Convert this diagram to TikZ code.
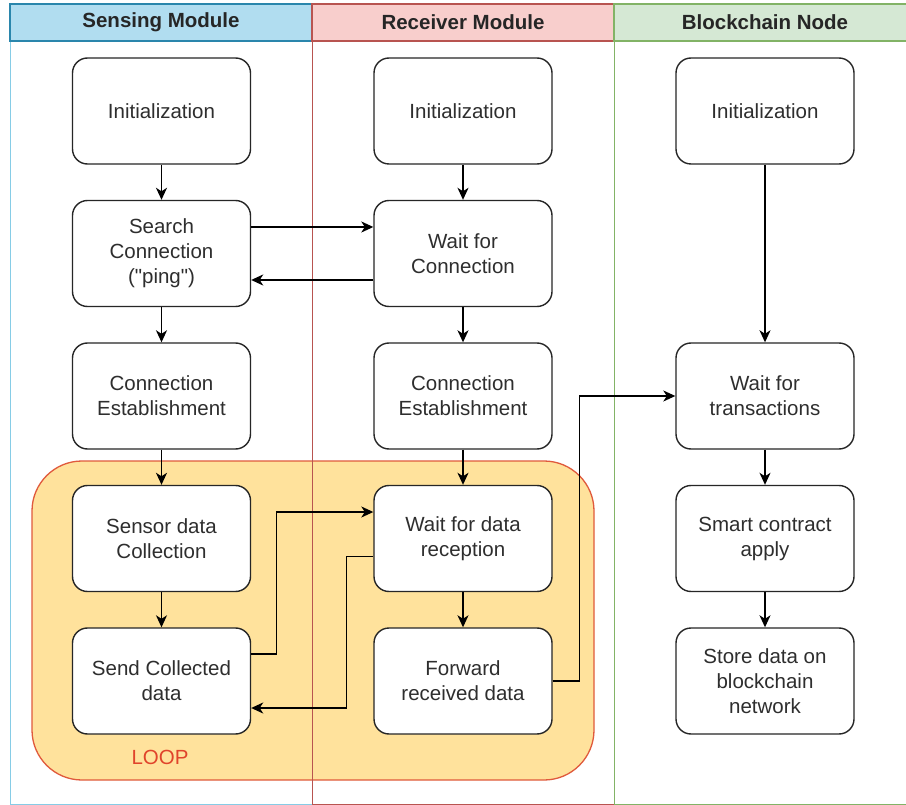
\documentclass[tikz,border=0pt]{standalone}
\usepackage{fontspec}
\setmainfont{Liberation Sans}
\usetikzlibrary{arrows.meta}
\definecolor{blueF}{HTML}{B1DDF0}
\definecolor{blueS}{HTML}{2A86AC}
\definecolor{blueL}{HTML}{86CCE6}
\definecolor{redF}{HTML}{F8CECC}
\definecolor{redS}{HTML}{B85450}
\definecolor{greenF}{HTML}{D5E8D4}
\definecolor{greenS}{HTML}{82B366}
\definecolor{loopF}{HTML}{FFE29C}
\definecolor{loopS}{HTML}{E05A3C}
\definecolor{loopT}{HTML}{E0442B}
\definecolor{txt}{HTML}{2E2E2E}
\begin{document}
\begin{tikzpicture}[x=1pt,y=-1pt,
 box/.style={draw=black!85, line width=1.4pt, rounded corners=15pt, fill=white,
   minimum width=178pt, minimum height=106pt, align=center, text=txt,
   font=\fontsize{20.5}{25}\selectfont, inner sep=0pt},
 arr/.style={line width=1.4pt, -{Stealth[length=12pt,width=11pt,inset=3.5pt]}},
 hdr/.style={font=\bfseries\fontsize{20.5}{25}\selectfont, text=black!85, inner sep=0pt}
]
\clip (0,0) rectangle (906,805);
\fill[white] (0,0) rectangle (906,805);
% loop background
\draw[loopS, fill=loopF, line width=1.3pt, rounded corners=50pt] (32,461) rectangle (594,780);
\node[text=loopT, font=\fontsize{20.5}{25}\selectfont, inner sep=0pt] (loop) at (160,757) {LOOP};
% lane outlines
\draw[blueL, line width=1pt] (10,41) rectangle (312,804);
\draw[redS, line width=0.9pt] (312,41) rectangle (614,804);
\draw[greenS, line width=0.9pt] (614,41) rectangle (916,804);
% headers
\draw[blueS, fill=blueF, line width=1.2pt] (10,4) rectangle (312,41);
\draw[redS, fill=redF, line width=1.2pt] (312,4) rectangle (614,41);
\draw[greenS, fill=greenF, line width=1.2pt] (614,4) rectangle (916,41);
\node[hdr] (h1) at (161,22.5) {Sensing Module};
\node[hdr] (h2) at (463,22.5) {Receiver Module};
\node[hdr] (h3) at (765,22.5) {Blockchain Node};
% sensing boxes
\node[box] (s1) at (161.5,111) {Initialization};
\node[box] (s2) at (161.5,253.5) {Search\\Connection\\(\textquotedbl ping\textquotedbl)};
\node[box] (s3) at (161.5,396) {Connection\\Establishment};
\node[box] (s4) at (161.5,538.5) {Sensor data\\Collection};
\node[box] (s5) at (161.5,681) {Send Collected\\data};
% receiver boxes
\node[box] (r1) at (463,111) {Initialization};
\node[box] (r2) at (463,253.5) {Wait for\\Connection};
\node[box] (r3) at (463,396) {Connection\\Establishment};
\node[box] (r4) at (463,538.5) {Wait for data\\reception};
\node[box] (r5) at (463,681) {Forward\\received data};
% blockchain boxes
\node[box] (b1) at (765,111) {Initialization};
\node[box] (b2) at (765,396) {Wait for\\transactions};
\node[box] (b3) at (765,538.5) {Smart contract\\apply};
\node[box] (b4) at (765,681) {Store data on\\blockchain\\network};
% vertical arrows
\draw[arr] (s1) -- (s2);
\draw[arr] (s2) -- (s3);
\draw[arr] (s3) -- (s4);
\draw[arr] (s4) -- (s5);
\draw[arr] (r1) -- (r2);
\draw[arr] (r2) -- (r3);
\draw[arr] (r3) -- (r4);
\draw[arr] (r4) -- (r5);
\draw[arr] (b1) -- (b2);
\draw[arr] (b2) -- (b3);
\draw[arr] (b3) -- (b4);
% horizontal arrows
\draw[arr] ([yshift=26.5pt]s2.east) -- ([yshift=26.5pt]r2.west);
\draw[arr] ([yshift=-26.5pt]r2.west) -- ([yshift=-26.5pt]s2.east);
\draw[arr] ([yshift=27pt]s5.east) -- ++(25,0) |- ([yshift=26.5pt]r4.west);
\draw[arr] ([yshift=-18pt]r4.west) -- ++(-27,0) |- ([yshift=-27pt]s5.east);
\draw[arr] (r5.east) -- ++(27,0) |- (b2.west);
\end{tikzpicture}
\end{document}
